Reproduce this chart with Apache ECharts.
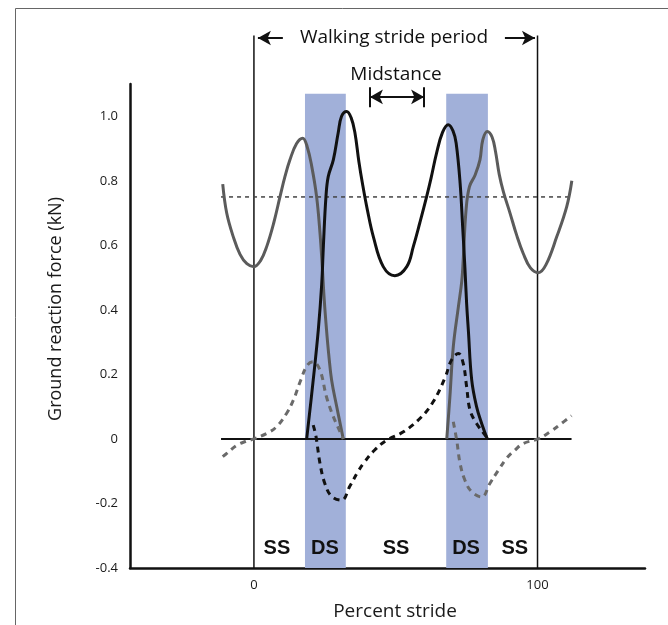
<!DOCTYPE html>
<html><head><meta charset="utf-8">
<script src="https://cdn.jsdelivr.net/npm/echarts@6/dist/echarts.min.js"></script>
<style>html,body{margin:0;padding:0;background:#fff}#c{width:668px;height:625px}</style>
</head><body><div id="c"></div>
<script>
// ---- data (percent stride, kN) ----
const xTickValues = [0, 100];
const yTickValues = [-0.4, -0.2, 0, 0.2, 0.4, 0.6, 0.8, 1.0];
const footAVertLeft = [[-11.0,0.79],[-9.6,0.70],[-7.3,0.627],[-4.9,0.572],[-2.5,0.543],[0,0.534],[2.3,0.552],[4.5,0.596],[7,0.67],[9.2,0.751],[11,0.815],[12.7,0.865],[15,0.915],[17.2,0.932],[18.8,0.905],[20.4,0.844],[22.1,0.751],[23.3,0.638],[24.1,0.534],[24.8,0.43],[25.6,0.338],[26.4,0.26],[27.4,0.182],[29.2,0.1],[31.5,0.0]];
const footAVertRight = [[68.0,0.0],[69.1,0.13],[70.3,0.286],[72.1,0.41],[73.3,0.49],[73.8,0.555],[74.8,0.71],[76.0,0.782],[78.0,0.818],[79.7,0.865],[80.7,0.927],[82.3,0.953],[84.0,0.935],[85.2,0.89],[86.5,0.82],[88.0,0.765],[90.3,0.70],[92.7,0.63],[95.0,0.574],[97.5,0.53],[100.3,0.515],[103,0.54],[106.8,0.627],[110.3,0.72],[112.1,0.80]];
const footBVert = [[18.6,0.0],[20.9,0.182],[22.7,0.338],[23.9,0.48],[24.5,0.6],[25.4,0.751],[26.2,0.813],[28.0,0.865],[29.7,0.948],[30.9,1.0],[32.7,1.015],[34.3,0.995],[35.6,0.95],[37.0,0.86],[38.3,0.79],[40,0.71],[42.1,0.627],[45.6,0.534],[49.7,0.506],[53.9,0.534],[56.2,0.596],[58.5,0.67],[60.9,0.751],[62.5,0.81],[64.4,0.886],[66.5,0.95],[68.5,0.974],[70.2,0.955],[71.3,0.917],[72.7,0.793],[73.6,0.658],[74.4,0.53],[75.0,0.42],[75.6,0.338],[76.8,0.182],[78.5,0.1],[80.3,0.048],[82.3,0.0]];
const footBFore = [[20.9,0.043],[21.6,0.02],[22.1,-0.004],[23.3,-0.076],[25.0,-0.138],[27.4,-0.178],[30.9,-0.19],[33.9,-0.145],[36.8,-0.1],[38.6,-0.076],[42.5,-0.035],[46.8,-0.004],[52.7,0.022],[58.6,0.064],[63.2,0.115],[67.4,0.19],[69.7,0.245],[72.1,0.265],[73.8,0.234],[75.0,0.162],[76.2,0.089],[78.5,0.048],[81.5,0.012],[82.5,0.0]];
const footAForeLeft = [[-11,-0.055],[-9.6,-0.045],[-6.1,-0.02],[-3,-0.008],[0,0.0],[4.5,0.017],[8.0,0.038],[11.5,0.079],[13.9,0.12],[16.5,0.182],[18.8,0.228],[20.9,0.239],[23.3,0.213],[25.6,0.13],[28.0,0.069],[30.9,0.012],[31.5,0.0]];
const footAForeRight = [[70.3,0.053],[71.5,-0.004],[72.7,-0.076],[74.4,-0.128],[76.8,-0.164],[80.3,-0.18],[83.2,-0.138],[86.2,-0.097],[89.1,-0.06],[92,-0.035],[95.0,-0.014],[100.2,0.0],[104.4,0.022],[108,0.045],[112.0,0.072]];
const zeroLine = [[-11.6,0],[112,0]];
const bodyWeightLine = [[-11.6,0.75],[112,0.75]];
const doubleSupport = [[18,32.4],[67.8,82.5]];
const bandTop = 1.07;
const strideBounds = [0, 100];
const strideTop = 1.25;
const phaseLabels = [['SS',8.1],['DS',25],['SS',50.1],['DS',74.8],['SS',92]];
const phaseY = -0.338;
const strideArrowY = 1.2425;
const strideArrows = [[10.2,1.4],[88.5,99.1]];
const strideText = ['Walking stride period', 49.4];
const midstance = [40.9, 60];
const midstanceY = 1.06;
const midstanceBar = [1.028, 1.09];
const midstanceText = ['Midstance', 50.1, 1.128];

// ---- chart ----
const X_MIN = -43.7, X_MAX = 137.9;
const Y_MIN = -0.4, Y_MAX = 1.1;
const GRID_TOP = 84, GRID_BOTTOM = 57, H = 625;
const pxPerUnit = (H - GRID_TOP - GRID_BOTTOM) / (Y_MAX - Y_MIN);
const Y2_MAX = Y_MIN + (H - GRID_BOTTOM) / pxPerUnit;

const FONT = '"Open Sans", "Noto Sans", sans-serif';
const chart = echarts.init(document.getElementById('c'), null, {renderer: 'canvas'});

function curve(name, data, color, dashed, z) {
  return {
    name, type: 'line', data, xAxisIndex: 0, yAxisIndex: 0,
    symbol: 'none', smooth: 0.4, z: z || 4,
    lineStyle: {color, width: 3, type: dashed ? [6, 5] : 'solid', cap: 'butt', join: 'round'},
    silent: true
  };
}

const arrowLines = strideArrows.map(a => [
  {coord: [a[0], strideArrowY], symbol: 'none'},
  {coord: [a[1], strideArrowY], symbol: 'arrow', symbolSize: [11, 13]}
]);
arrowLines.push([
  {coord: [midstance[0], midstanceY], symbol: 'arrow', symbolSize: [11, 13]},
  {coord: [midstance[1], midstanceY], symbol: 'arrow', symbolSize: [11, 13]}
]);
midstance.forEach(x => arrowLines.push([
  {coord: [x, midstanceBar[0]], symbol: 'none'},
  {coord: [x, midstanceBar[1]], symbol: 'none'}
]));

const plainLabel = {show: true, position: 'inside', formatter: '{b}', color: '#111', opacity: 1,
  textBorderWidth: 0, textBorderColor: 'transparent', textShadowBlur: 0};

const option = {
  animation: false,
  backgroundColor: '#fff',
  grid: [
    {left: 130, right: 23, top: GRID_TOP, bottom: GRID_BOTTOM},
    {left: 130, right: 23, top: 0, bottom: GRID_BOTTOM}
  ],
  xAxis: [
    {type: 'value', gridIndex: 0, min: X_MIN, max: X_MAX,
     axisLine: {show: true, onZero: false, lineStyle: {color: '#111', width: 2.5}},
     axisTick: {show: false}, splitLine: {show: false},
     axisLabel: {customValues: xTickValues, color: '#1a1a1a', fontSize: 13, fontFamily: FONT, margin: 11}},
    {type: 'value', gridIndex: 1, min: X_MIN, max: X_MAX, show: false}
  ],
  yAxis: [
    {type: 'value', gridIndex: 0, min: Y_MIN, max: Y_MAX,
     axisLine: {show: true, onZero: false, lineStyle: {color: '#111', width: 2.5}},
     axisTick: {show: false}, splitLine: {show: false},
     axisLabel: {customValues: yTickValues, color: '#1a1a1a', fontSize: 13, fontFamily: FONT, margin: 12,
       formatter: v => Math.abs(v) < 1e-9 ? '0' : v.toFixed(1)}},
    {type: 'value', gridIndex: 1, min: Y_MIN, max: Y2_MAX, show: false}
  ],
  graphic: [
    {type: 'rect', shape: {x: 15.5, y: 8.5, width: 900, height: 900}, style: {fill: 'none', stroke: '#666', lineWidth: 1}, silent: true, z: 0},
    {type: 'text', x: 56, y: 309, rotation: Math.PI / 2,
     style: {text: 'Ground reaction force (kN)', fill: '#1a1a1a', font: '18px ' + FONT, align: 'center', verticalAlign: 'middle'}},
    {type: 'text', x: 395, y: 612,
     style: {text: 'Percent stride', fill: '#1a1a1a', font: '19px ' + FONT, align: 'center', verticalAlign: 'middle'}}
  ],
  series: [
    {name: 'zero', type: 'line', data: zeroLine, xAxisIndex: 0, yAxisIndex: 0, symbol: 'none', z: 3,
     lineStyle: {color: '#111', width: 2}, silent: true,
     markArea: {silent: true, itemStyle: {color: '#a1b0d9'},
       data: doubleSupport.map(b => [{coord: [b[0], Y_MIN]}, {coord: [b[1], bandTop]}])}},
    {name: 'bodyweight', type: 'line', data: bodyWeightLine, xAxisIndex: 0, yAxisIndex: 0, symbol: 'none', z: 3,
     lineStyle: {color: '#444', width: 1.5, type: [4, 4]}, silent: true},
    curve('A vertical L', footAVertLeft, '#5b5b5b', false, 4),
    curve('A vertical R', footAVertRight, '#5b5b5b', false, 4),
    curve('A fore-aft L', footAForeLeft, '#6a6a6a', true, 4),
    curve('A fore-aft R', footAForeRight, '#6a6a6a', true, 4),
    curve('B vertical', footBVert, '#111', false, 5),
    curve('B fore-aft', footBFore, '#111', true, 5),
    ...strideBounds.map((x, i) => ({
      name: 'bound' + i, type: 'line', xAxisIndex: 1, yAxisIndex: 1, symbol: 'none', z: 2,
      data: [[x, Y_MIN], [x, strideTop]], lineStyle: {color: '#111', width: 1.5}, silent: true,
      markLine: i === 0 ? {silent: true, label: {show: false}, lineStyle: {color: '#111', width: 2, type: 'solid'},
        symbol: 'none', data: arrowLines} : undefined
    })),
    {name: 'phases', type: 'scatter', xAxisIndex: 1, yAxisIndex: 1, symbolSize: 0, z: 6, silent: true,
     itemStyle: {color: '#111', opacity: 1},
     data: phaseLabels.map(p => ({name: p[0], value: [p[1], phaseY]})),
     label: Object.assign({}, plainLabel, {fontSize: 20, fontWeight: 'bold', fontFamily: '"Liberation Sans", Arial, sans-serif'})},
    {name: 'texts', type: 'scatter', xAxisIndex: 1, yAxisIndex: 1, symbolSize: 0, z: 6, silent: true,
     itemStyle: {color: '#111', opacity: 1},
     data: [{name: strideText[0], value: [strideText[1], strideArrowY]}, {name: midstanceText[0], value: [midstanceText[1], midstanceText[2]]}],
     label: Object.assign({}, plainLabel, {fontSize: 19, fontFamily: FONT})}
  ]
};
chart.setOption(option);
</script>
</body></html>
